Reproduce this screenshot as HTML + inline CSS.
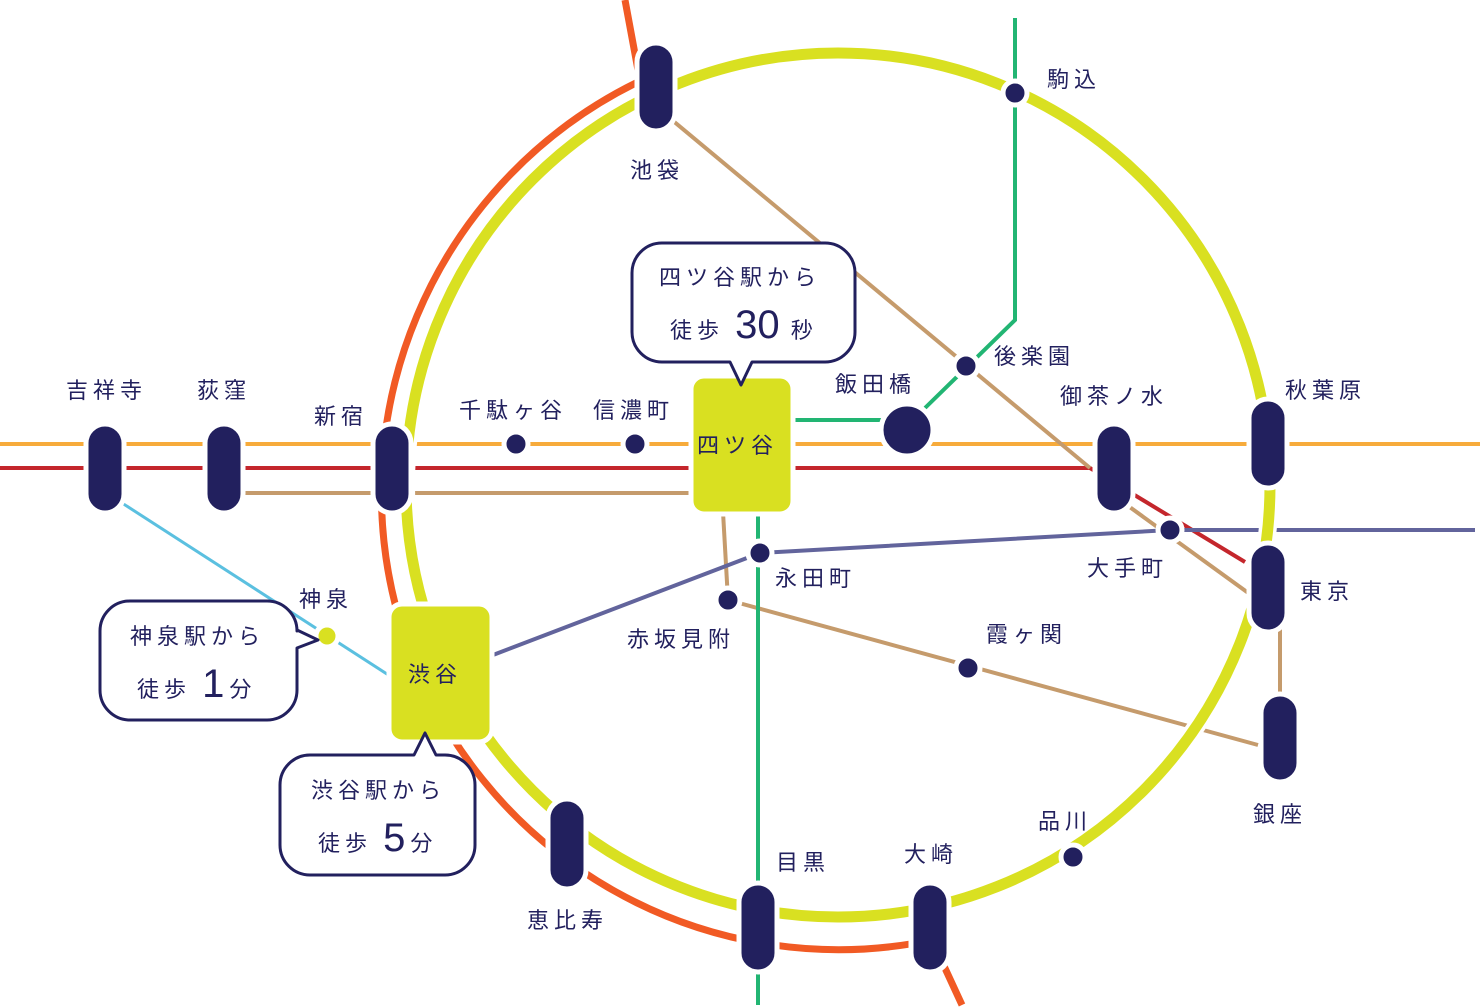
<!DOCTYPE html>
<html><head><meta charset="utf-8"><style>
html,body{margin:0;padding:0;background:#fff;}
svg{display:block;}
text{font-family:"Liberation Sans","Noto Sans CJK JP",sans-serif;fill:#22205e;font-size:22px;letter-spacing:5px;}
</style></head><body>
<svg width="1480" height="1008" viewBox="0 0 1480 1008" xmlns="http://www.w3.org/2000/svg">
<g fill="none" stroke-width="4">
<line x1="0" y1="444" x2="1480" y2="444" stroke="#f7ab3b"/>
<polyline points="0,468 1090,468 1245,562" stroke="#c4262c"/>
<line x1="224" y1="493" x2="693" y2="493" stroke="#c59b6c"/>
<line x1="660" y1="110" x2="1090" y2="468" stroke="#c59b6c"/>
<line x1="1120" y1="500" x2="1258" y2="600" stroke="#c59b6c"/>
<line x1="1280" y1="620" x2="1280" y2="700" stroke="#c59b6c"/>
<polyline points="723,512 728,600 1258,745" stroke="#c59b6c"/>
<polyline points="1015,18 1015,320 925,408" stroke="#22b573"/>
<line x1="791" y1="420" x2="890" y2="420" stroke="#22b573"/>
<line x1="758" y1="512" x2="758" y2="1005" stroke="#22b573"/>
<polyline points="493,655 760,553 1170,530 1475,530" stroke="#62649c"/>
<line x1="105" y1="492" x2="390" y2="676" stroke="#5bc0e0" stroke-width="3"/>
</g>
<path d="M625,0 L640,81 A457,457 0 0 0 932,940 L962,1005" fill="none" stroke="#f15a24" stroke-width="7"/>
<circle cx="838" cy="485" r="432" fill="none" stroke="#fff" stroke-width="18"/>
<circle cx="838" cy="485" r="432" fill="none" stroke="#d9e021" stroke-width="11"/>
<g fill="#22205e" stroke="#fff" stroke-width="5">
<rect x="637" y="43" width="38" height="88" rx="19"/>
<rect x="86" y="424" width="38" height="89" rx="19"/>
<rect x="205" y="424" width="38" height="89" rx="19"/>
<rect x="373" y="424" width="38" height="89" rx="19"/>
<rect x="1095" y="424" width="38" height="89" rx="19"/>
<rect x="1249" y="399" width="38" height="89" rx="19"/>
<rect x="1249" y="543" width="38" height="89" rx="19"/>
<rect x="1261" y="694" width="38" height="88" rx="19"/>
<rect x="548" y="799" width="38" height="90" rx="19"/>
<rect x="739" y="883" width="38" height="89" rx="19"/>
<rect x="911" y="883" width="38" height="89" rx="19"/>
<circle cx="1015" cy="93" r="12"/>
<circle cx="966" cy="366" r="12"/>
<circle cx="516" cy="444" r="12"/>
<circle cx="635" cy="444" r="12"/>
<circle cx="1170" cy="530" r="12"/>
<circle cx="760" cy="553" r="12"/>
<circle cx="728" cy="600" r="12"/>
<circle cx="968" cy="668" r="12"/>
<circle cx="1073" cy="857" r="12"/>
<circle cx="907" cy="430" r="26"/>
<circle cx="327" cy="636" r="11" fill="#d9e021"/>
<rect x="691" y="376" width="102" height="138" rx="13" fill="#d9e021"/>
<rect x="389" y="604" width="103" height="138" rx="13" fill="#d9e021"/>
</g>
<g fill="#fff" stroke="#22205e" stroke-width="3" stroke-linejoin="round">
<path d="M662,243 H825 A30,30 0 0 1 855,273 V332 A30,30 0 0 1 825,362 H752 L741,385 L730,362 H662 A30,30 0 0 1 632,332 V273 A30,30 0 0 1 662,243 Z"/>
<path d="M130,601 H267 A30,30 0 0 1 297,631 V630 L318,640 L297,648 V690 A30,30 0 0 1 267,720 H130 A30,30 0 0 1 100,690 V631 A30,30 0 0 1 130,601 Z"/>
<path d="M310,755 H414 L425,733 L436,755 H445 A30,30 0 0 1 475,785 V845 A30,30 0 0 1 445,875 H310 A30,30 0 0 1 280,845 V785 A30,30 0 0 1 310,755 Z"/>
</g>
<g>
<text x="659" y="285" font-size="26" letter-spacing="2">四ツ谷駅から</text>
<text x="670" y="338" font-size="26" letter-spacing="2">徒歩 <tspan font-size="40" letter-spacing="0">30</tspan> 秒</text>
<text x="130" y="644" font-size="26" letter-spacing="2">神泉駅から</text>
<text x="137" y="697" font-size="26" letter-spacing="2">徒歩 <tspan font-size="40">1</tspan>分</text>
<text x="311" y="798" font-size="26" letter-spacing="2">渋谷駅から</text>
<text x="318" y="851" font-size="26" letter-spacing="2">徒歩 <tspan font-size="40">5</tspan>分</text>
<text x="697" y="453" font-size="27">四ツ谷</text>
<text x="408" y="682" font-size="27">渋谷</text>
<text x="630" y="178">池袋</text>
<text x="1047" y="87">駒込</text>
<text x="994" y="364">後楽園</text>
<text x="835" y="392">飯田橋</text>
<text x="1060" y="404">御茶ノ水</text>
<text x="1285" y="398">秋葉原</text>
<text x="1087" y="576">大手町</text>
<text x="1300" y="599">東京</text>
<text x="1253" y="822">銀座</text>
<text x="1038" y="829">品川</text>
<text x="904" y="862">大崎</text>
<text x="776" y="870">目黒</text>
<text x="527" y="928">恵比寿</text>
<text x="986" y="642">霞ヶ関</text>
<text x="775" y="586">永田町</text>
<text x="627" y="647">赤坂見附</text>
<text x="299" y="607">神泉</text>
<text x="459" y="418">千駄ヶ谷</text>
<text x="593" y="418">信濃町</text>
<text x="314" y="424">新宿</text>
<text x="197" y="398">荻窪</text>
<text x="66" y="398">吉祥寺</text>
</g>
</svg>
</body></html>
